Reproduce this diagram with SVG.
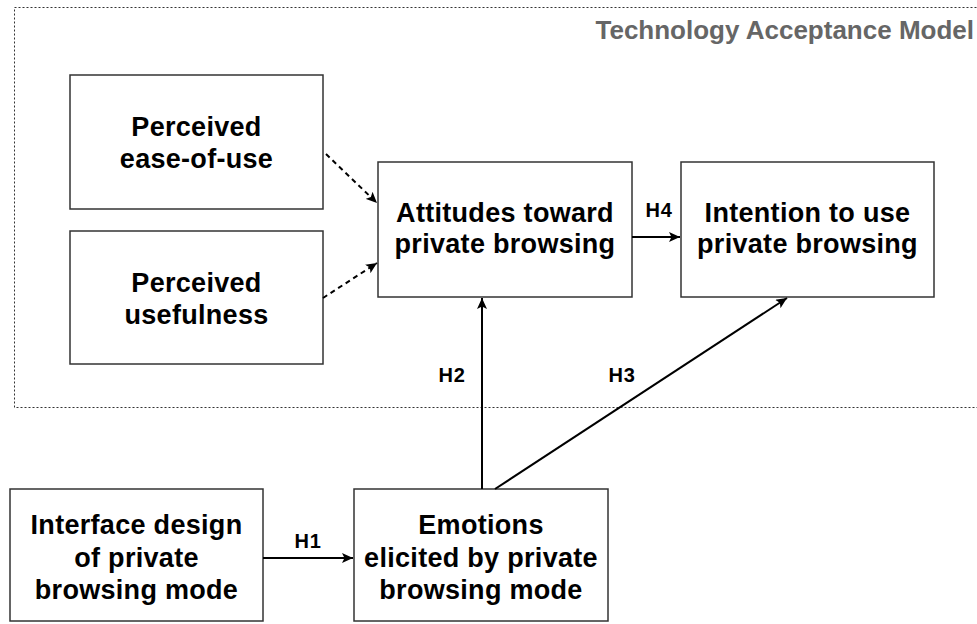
<svg xmlns="http://www.w3.org/2000/svg" width="977" height="624" viewBox="0 0 977 624">
<style>
.box{fill:#fff;stroke:#333;stroke-width:1.5}
.t{font-family:"Liberation Sans",Arial,Helvetica,sans-serif;font-weight:bold;font-size:27px;letter-spacing:0.3px;fill:#000;text-anchor:middle}
.lbl{font-family:"Liberation Sans",Arial,Helvetica,sans-serif;font-weight:bold;font-size:20px;letter-spacing:0.8px;fill:#000;text-anchor:middle}
.title{font-family:"Liberation Sans",Arial,Helvetica,sans-serif;font-weight:bold;font-size:26px;fill:#666;text-anchor:end}
.c{fill:none;stroke:#000;stroke-width:2}
.d{stroke-dasharray:5 4}
</style>
<defs>
<marker id="ah" markerUnits="userSpaceOnUse" markerWidth="12" markerHeight="10" refX="11" refY="5" orient="auto">
<path d="M0,0 L11,5 L0,10 L2.5,5 z" fill="#000"/>
</marker>
</defs>
<rect width="977" height="624" fill="#fff"/>
<g id="tam">
<rect x="14.5" y="7.5" width="980" height="400" fill="none" stroke="#333" stroke-width="1" stroke-dasharray="2 2"/>
<text class="title" x="974" y="39">Technology Acceptance Model</text>
</g>
<g id="peou">
<rect class="box" x="70" y="75" width="253" height="134"/>
<text class="t" x="196.5" y="136">Perceived</text>
<text class="t" x="196.5" y="168">ease-of-use</text>
</g>
<g id="pu">
<rect class="box" x="70" y="231" width="253" height="133"/>
<text class="t" x="196.5" y="292">Perceived</text>
<text class="t" x="196.5" y="324">usefulness</text>
</g>
<g id="att">
<rect class="box" x="378" y="162" width="254" height="135"/>
<text class="t" x="505" y="222">Attitudes toward</text>
<text class="t" x="505" y="253">private browsing</text>
</g>
<g id="int">
<rect class="box" x="681" y="162" width="253" height="135"/>
<text class="t" x="807.5" y="222">Intention to use</text>
<text class="t" x="807.5" y="253">private browsing</text>
</g>
<g id="iface">
<rect class="box" x="10" y="489" width="253" height="132"/>
<text class="t" x="136.5" y="534">Interface design</text>
<text class="t" x="136.5" y="567">of private</text>
<text class="t" x="136.5" y="599">browsing mode</text>
</g>
<g id="emo">
<rect class="box" x="354" y="489" width="254" height="132"/>
<text class="t" x="481" y="534">Emotions</text>
<text class="t" x="481" y="567">elicited by private</text>
<text class="t" x="481" y="599">browsing mode</text>
</g>
<g id="connectors">
<line class="c d" x1="326" y1="154" x2="377" y2="203" marker-end="url(#ah)"/>
<line class="c d" x1="323" y1="298" x2="377" y2="263" marker-end="url(#ah)"/>
<line class="c" x1="632" y1="237" x2="680" y2="237" marker-end="url(#ah)"/>
<line class="c" x1="482" y1="489" x2="482" y2="298" marker-end="url(#ah)"/>
<line class="c" x1="495" y1="489" x2="787" y2="298" marker-end="url(#ah)"/>
<line class="c" x1="263" y1="558" x2="353" y2="558" marker-end="url(#ah)"/>
<text class="lbl" x="659" y="217">H4</text>
<text class="lbl" x="452" y="382">H2</text>
<text class="lbl" x="622" y="382">H3</text>
<text class="lbl" x="308" y="548">H1</text>
</g>
</svg>
